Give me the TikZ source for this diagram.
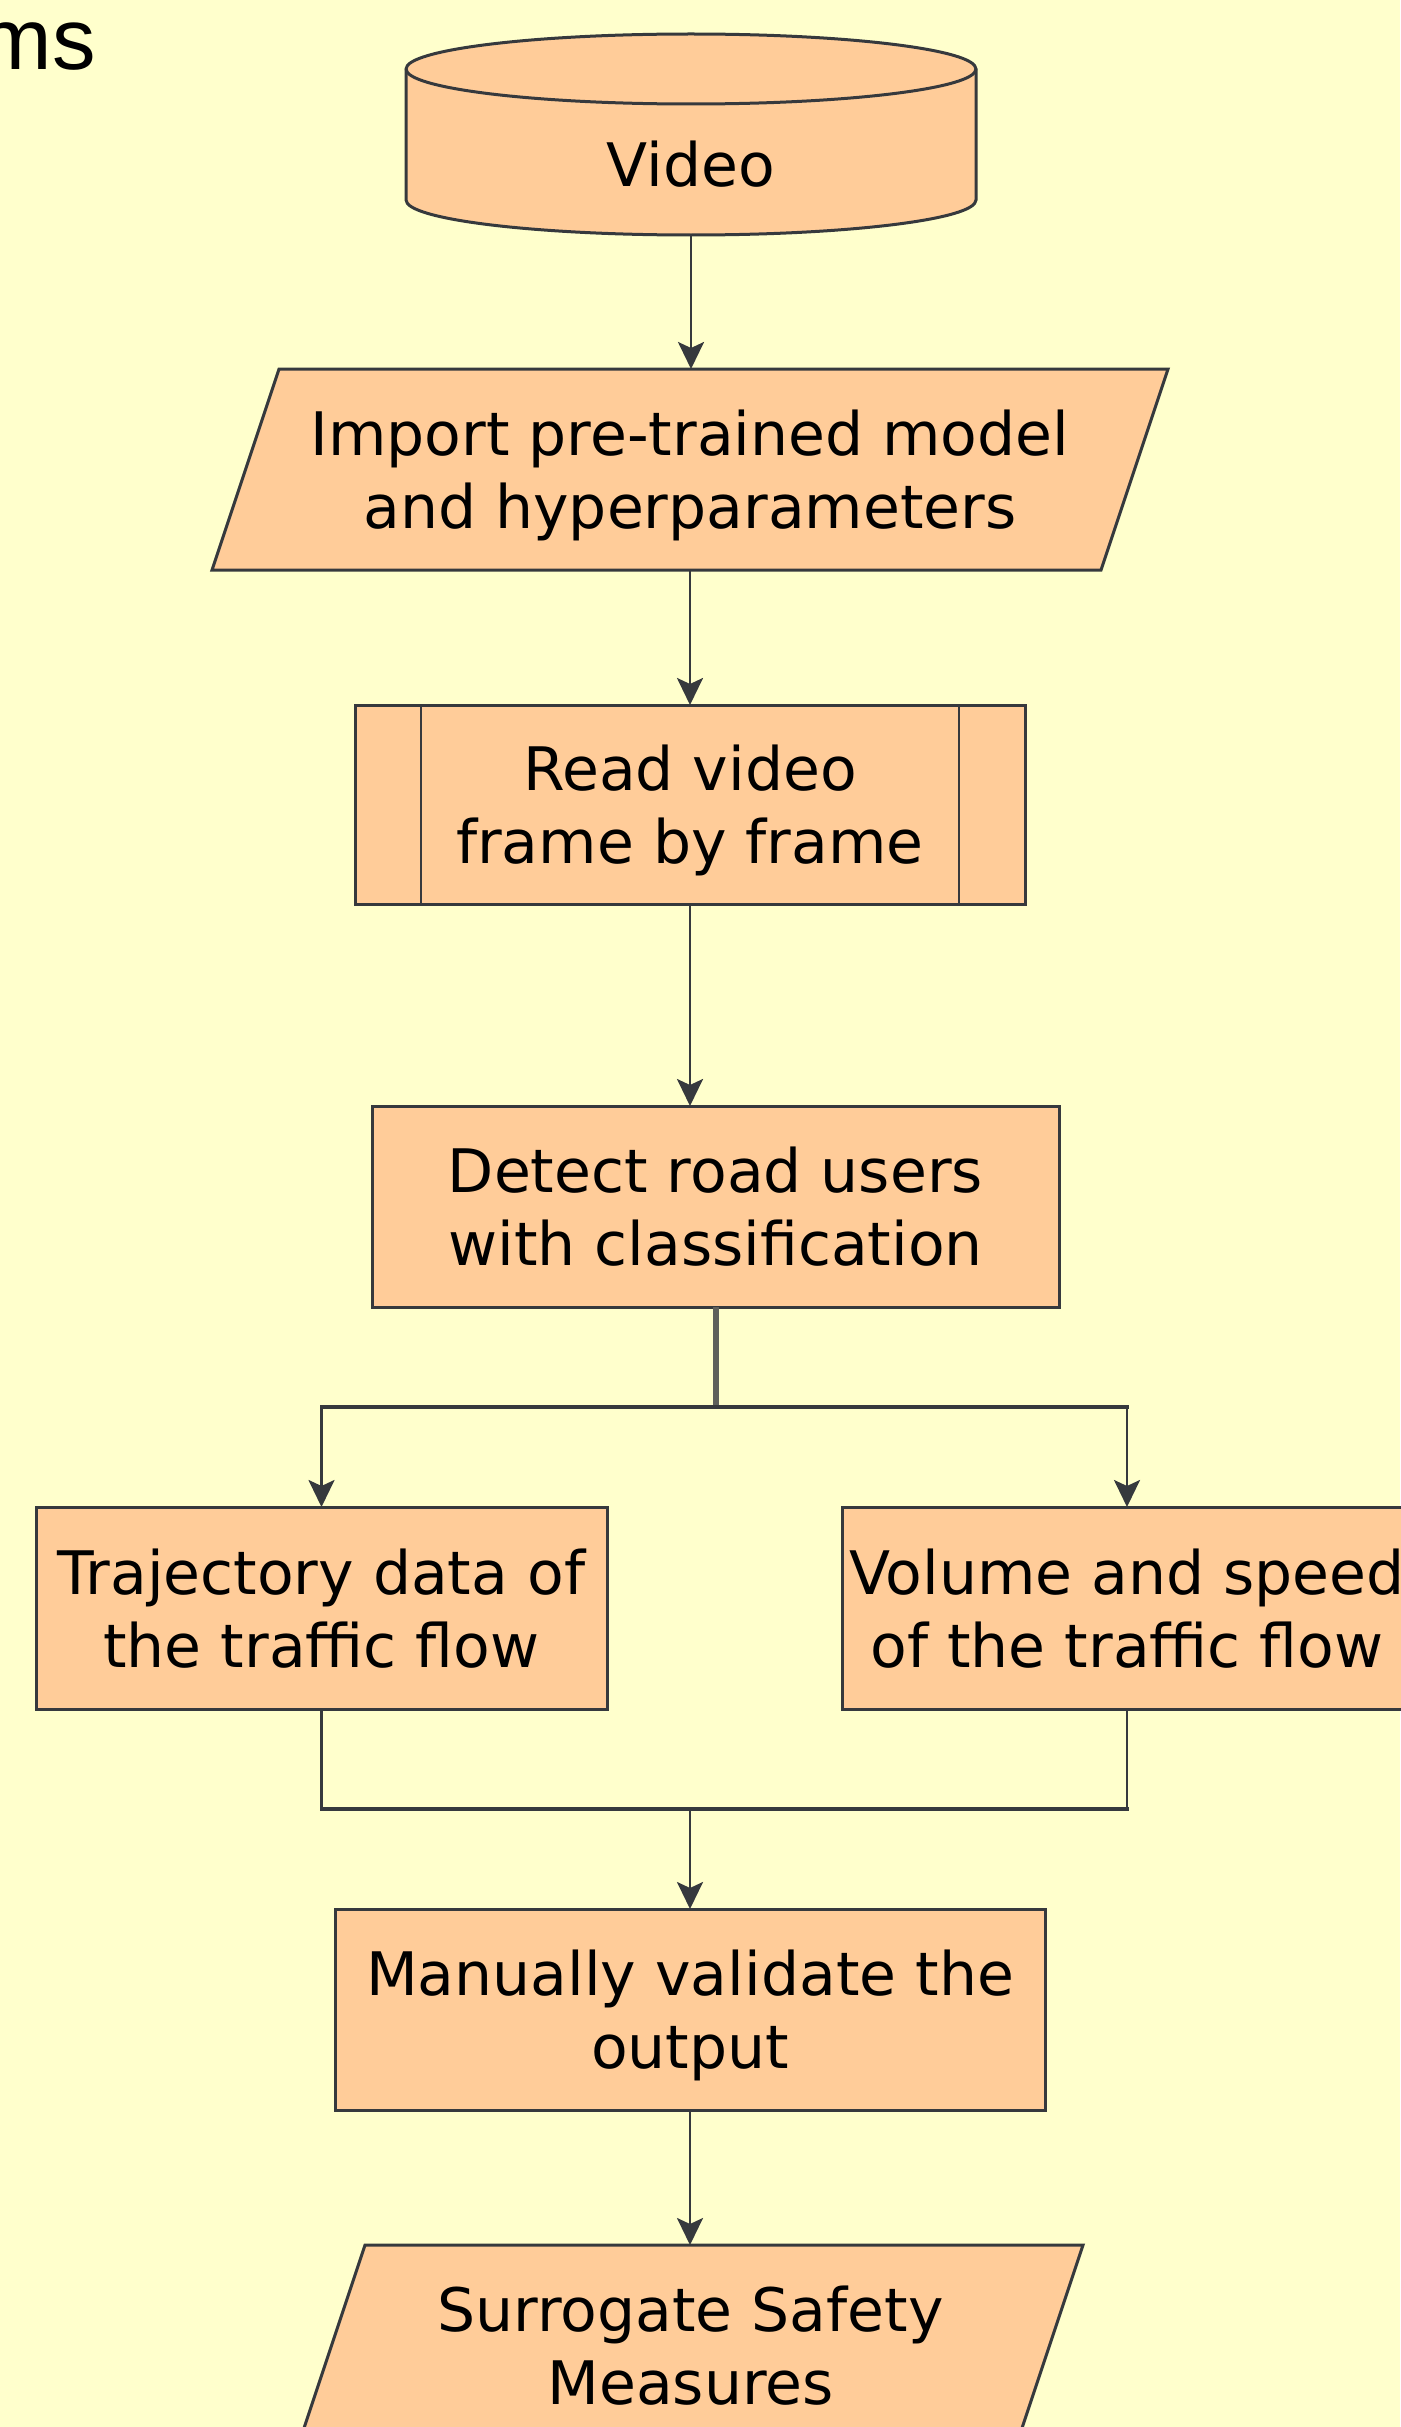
\documentclass[tikz,border=0pt]{standalone}
\usepackage{fontspec}
\setmainfont{DejaVu Sans}
\newfontfamily\arialfont{Liberation Sans}
\usetikzlibrary{arrows.meta,calc}
\pgfdeclarelayer{back}
\pgfdeclarelayer{shapes}
\pgfsetlayers{back,shapes,main}
\definecolor{bgyellow}{HTML}{FFFFCC}
\definecolor{peach}{HTML}{FFCC99}
\definecolor{edgecol}{HTML}{36393D}
\definecolor{graycol}{HTML}{5E605B}
\begin{document}
\begin{tikzpicture}[x=1pt,y=-1pt,
  lbl/.style={inner sep=0pt, outer sep=0pt, align=center, font=\fontsize{60}{73}\selectfont, text=black, text depth=0pt},
  boxed/.style={lbl, draw=edgecol, fill=peach, line width=3pt},
  shapeline/.style={draw=edgecol, fill=peach, line width=3pt, line join=miter},
  conn/.style={draw=edgecol, line width=2.8pt, -{Stealth[length=27pt,width=26pt,inset=6pt]}},
  plainline/.style={draw=edgecol, line width=2.6pt},
  bar/.style={draw=edgecol, line width=4pt, line cap=rect},
  graybar/.style={draw=graycol, line width=6pt}
]
\useasboundingbox (0,0) rectangle (1400,2427);
\begin{pgfonlayer}{back}
  \fill[bgyellow] (0,0) rectangle (1400,2427);
\end{pgfonlayer}

% partial title text (cut off at the left edge, as in the reference)
\node[font=\arialfont\fontsize{87}{100}\selectfont, anchor=base east, inner sep=0pt] (ms) at (96,70) {ms};

% cylinder "Video"
\node[lbl, minimum width=570pt, minimum height=142pt] (video) at (691,164) {Video};
\begin{pgfonlayer}{shapes}
  \draw[shapeline] (406,69) -- (406,200)
     arc[start angle=180, end angle=360, x radius=285pt, y radius=35pt]
     -- (976,69)
     arc[start angle=0, end angle=180, x radius=285pt, y radius=35pt] -- cycle;
  \draw[draw=edgecol, line width=3pt] (406,69)
     arc[start angle=180, end angle=360, x radius=285pt, y radius=35pt];
\end{pgfonlayer}

% parallelogram: import
\node[lbl, minimum width=956pt, minimum height=201pt] (import) at (690,469.5)
  {Import pre-trained model\\and hyperparameters};
\begin{pgfonlayer}{shapes}
  \draw[shapeline] ([xshift=67pt]import.north west) -- (import.north east)
     -- ([xshift=-67pt]import.south east) -- (import.south west) -- cycle;
\end{pgfonlayer}

% predefined process: read
\node[boxed, minimum width=670pt, minimum height=199pt] (read) at (690,804.5)
  {Read video\\frame by frame};
\draw[draw=edgecol, line width=2.6pt] ([xshift=66pt]read.north west) -- ([xshift=66pt]read.south west);
\draw[draw=edgecol, line width=2.6pt] ([xshift=-66pt]read.north east) -- ([xshift=-66pt]read.south east);

% detect
\node[boxed, minimum width=687pt, minimum height=201pt] (detect) at (715.5,1206.5)
  {Detect road users\\with classification};

% two outputs
\node[boxed, minimum width=571pt, minimum height=202pt] (traj) at (321.5,1608)
  {Trajectory data of\\the traffic flow};
\node[boxed, minimum width=570pt, minimum height=202pt] (vol) at (1127,1608)
  {Volume and speed\\of the traffic flow};

% manual validation
\node[boxed, minimum width=710pt, minimum height=201pt] (manual) at (690,2009.5)
  {Manually validate the\\output};

% parallelogram: SSM
\node[lbl, minimum width=785pt, minimum height=201pt] (ssm) at (690.5,2345.5)
  {Surrogate Safety\\Measures};
\begin{pgfonlayer}{shapes}
  \draw[shapeline] ([xshift=67pt]ssm.north west) -- (ssm.north east)
     -- ([xshift=-67pt]ssm.south east) -- (ssm.south west) -- cycle;
\end{pgfonlayer}

% connectors
\draw[conn] (video.south) -- (video.south |- import.north);
\draw[conn] (import.south) -- (read.north);
\draw[conn] (read.south) -- (read.south |- detect.north);

\coordinate (split) at (715.5,1407);
\draw[graybar] (detect.south) -- (split);
\draw[bar] (traj.north |- split) -- (vol.north |- split);
\draw[conn] (traj.north |- split) -- (traj.north);
\draw[conn] (vol.north |- split) -- (vol.north);

\coordinate (merge) at (690,1809);
\draw[plainline] (traj.south) -- (traj.south |- merge);
\draw[plainline] (vol.south) -- (vol.south |- merge);
\draw[bar] (traj.south |- merge) -- (vol.south |- merge);
\draw[conn] (merge) -- (merge |- manual.north);
\draw[conn] (manual.south) -- (manual.south |- ssm.north);
\end{tikzpicture}
\end{document}
